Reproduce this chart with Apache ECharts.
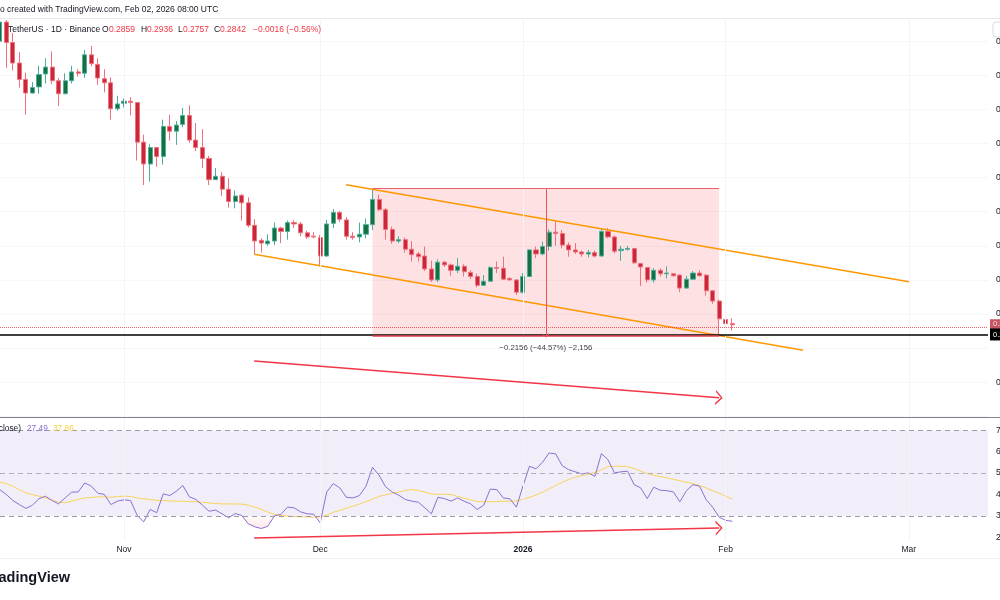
<!DOCTYPE html>
<html><head><meta charset="utf-8">
<script src="https://cdn.jsdelivr.net/npm/echarts@6/dist/echarts.min.js"></script>
<style>html,body{margin:0;padding:0;background:#fff}#c{width:1000px;height:600px}</style>
</head><body><div id="c"></div><script>
// ---------- data (daily candles, first candle date below) ----------
const firstDate = '2025-10-13';
const opens = [.700,.728,.698,.668,.644,.624,.633,.652,.662,.642,
.623,.642,.655,.653,.680,.666,.645,.639,.601,.609,
.612,.610,.552,.520,.544,.531,.575,.568,.578,.591,
.555,.544,.528,.497,.502,.483,.465,.474,.463,.430,
.408,.403,.407,.426,.421,.434,.432,.419,.414,.412,
.385,.433,.449,.438,.414,.413,.417,.431,.468,.453,
.424,.407,.409,.395,.388,.385,.366,.350,.376,.372,
.364,.370,.361,.355,.342,.348,.368,.367,.352,.350,
.332,.355,.394,.388,.399,.420,.418,.401,.394,.391,
.388,.390,.385,.421,.413,.393,.395,.396,.374,.368,
.350,.364,.359,.359,.357,.338,.351,.360,.357,.334,
.319,.292,.2859];
const highs = [.733,.731,.712,.684,.654,.640,.664,.675,.685,.646,
.653,.664,.659,.687,.693,.675,.659,.647,.620,.616,
.618,.611,.563,.549,.545,.585,.592,.583,.602,.606,
.580,.571,.532,.514,.508,.499,.481,.476,.471,.439,
.411,.417,.434,.428,.437,.438,.435,.422,.420,.416,
.438,.454,.451,.442,.420,.434,.440,.4837,.475,.455,
.428,.414,.412,.407,.391,.399,.378,.380,.378,.374,
.382,.373,.364,.359,.357,.370,.377,.384,.354,.351,
.360,.395,.399,.406,.424,.437,.423,.405,.404,.393,
.394,.393,.426,.426,.415,.400,.400,.397,.375,.369,
.367,.367,.370,.360,.358,.356,.363,.364,.358,.335,
.321,.298,.2936];
const lows = [.696,.661,.657,.632,.592,.623,.623,.638,.637,.605,
.622,.638,.648,.646,.663,.636,.625,.585,.598,.603,
.591,.525,.489,.494,.516,.519,.554,.548,.574,.551,
.539,.514,.489,.497,.473,.456,.455,.437,.427,.388,
.390,.400,.401,.404,.409,.426,.414,.410,.411,.370,
.384,.426,.435,.409,.409,.405,.411,.423,.451,.409,
.403,.404,.390,.377,.377,.363,.347,.347,.369,.356,
.360,.355,.351,.339,.341,.347,.360,.350,.349,.328,
.330,.354,.382,.386,.393,.400,.396,.384,.388,.384,
.383,.383,.384,.411,.389,.378,.393,.374,.341,.346,
.346,.355,.352,.355,.332,.337,.350,.355,.327,.315,
.2681,.279,.2757];
const closes = [.728,.698,.668,.644,.624,.632,.651,.662,.642,.623,
.642,.655,.653,.680,.667,.646,.639,.601,.608,.612,
.610,.552,.520,.544,.531,.575,.568,.577,.591,.555,
.544,.528,.497,.502,.483,.465,.473,.463,.430,.407,
.404,.407,.426,.421,.434,.432,.419,.413,.413,.385,
.432,.449,.439,.414,.412,.417,.431,.468,.453,.424,
.407,.409,.395,.387,.384,.366,.350,.376,.372,.364,
.370,.362,.355,.342,.348,.368,.367,.351,.350,.332,
.355,.394,.388,.399,.420,.418,.401,.394,.391,.388,
.390,.385,.421,.413,.392,.395,.396,.375,.369,.350,
.364,.359,.360,.356,.338,.351,.360,.356,.334,.319,
.293,.2858,.2842];
const rsi = [42.3,40.0,37.2,35.3,33.5,35.0,38.0,39.2,37.2,35.6,
38.4,41.1,41.2,45.4,43.9,40.6,40.0,35.3,36.9,37.5,
37.2,30.3,27.2,33.0,31.5,40.3,39.5,41.5,44.2,38.9,
37.7,35.0,32.2,32.7,31.0,29.1,31.1,30.2,26.3,
24.9,24.1,25.2,30.0,30.7,34.1,33.8,31.9,31.0,30.8,
26.8,41.2,45.1,43.1,38.7,38.4,39.5,43.9,52.7,49.0,
43.6,41.2,39.7,37.7,36.9,36.4,33.8,31.0,38.7,38.1,
36.9,38.4,36.9,35.6,33.0,35.0,42.5,
42.3,38.4,38.0,34.1,43.9,53.2,52.0,55.1,59.4,59.0,
53.5,51.6,50.6,49.6,50.1,48.5,59.1,56.3,50.1,50.6,
50.9,44.6,43.1,38.1,43.4,42.0,41.8,41.2,36.6,41.8,
44.6,43.9,37.7,34.1,29.4,27.9,27.49];
const rsiMA = [45.7,45.1,43.9,42.3,40.8,40.0,39.2,38.4,37.3,36.4,
36.1,36.9,37.8,38.4,38.6,38.9,38.9,38.7,39.1,39.2,
39.1,38.4,38.0,37.7,37.3,37.2,37.0,36.9,36.9,36.7,
36.6,36.4,36.1,35.8,35.6,35.6,35.6,35.5,35.0,
34.1,33.0,31.8,30.7,30.2,29.9,29.7,29.6,29.6,29.4,
29.6,30.3,31.7,32.6,33.6,34.5,35.5,36.6,37.8,39.1,
39.8,40.6,41.1,41.9,42.3,41.9,41.2,40.3,40.1,40.1,
40.0,39.1,38.3,37.5,36.7,36.6,36.6,
36.7,36.9,36.9,37.0,37.7,38.7,39.7,41.1,42.6,44.2,
45.7,47.0,48.1,48.8,49.3,50.4,51.6,53.0,53.2,53.2,
53.0,52.1,50.9,49.8,49.0,48.4,47.8,47.1,46.4,45.7,
45.1,44.2,43.1,41.8,40.6,39.2,37.86];
const monthStarts = ['2025-11-01','2025-12-01','2026-01-01','2026-02-01','2026-03-01'];
const monthLabels = ['Nov','Dec','2026','Feb','Mar'];
// drawings: [day offset from firstDate, value]
const channelUpper = [[52.94,0.4896],[139.03,0.3472]];
const channelLower = [[38.92,0.3875],[122.82,0.2468]];
const priceArrow = [[38.9,0.2311],[110.0,0.1773]];
const rsiArrow = [[38.9,19.7],[110.0,24.35]];
const measureX = [57, 110];
const measureY = [0.4837, 0.2681];
const countdown = '15:59:59';

// ---------- helpers ----------
const FONT = '"Liberation Sans", Arial, sans-serif';
const RED = '#f23645';
function dayIndex(s){const [y,m,d]=s.split('-').map(Number);const [y0,m0,d0]=firstDate.split('-').map(Number);return (Date.UTC(y,m-1,d)-Date.UTC(y0,m0-1,d0))/86400000;}
const xIdx = opens.map((_,i)=>i);
const monthIdx = monthStarts.map(dayIndex);
const n = closes.length;
const lastClose = closes[n-1], prevClose = closes[n-2];
const minus = v => (v<0?'\u2212':'') ;
const chg = lastClose - prevClose;
const chgTxt = minus(chg)+Math.abs(chg).toFixed(4)+' ('+minus(chg)+Math.abs(chg/prevClose*100).toFixed(2)+'%)';
const mDiff = measureY[1]-measureY[0];
const mTxt = minus(mDiff)+Math.abs(mDiff).toFixed(4)+' ('+minus(mDiff)+Math.abs(mDiff/measureY[0]*100).toFixed(2)+'%) '+minus(mDiff)+Math.round(Math.abs(mDiff)*10000).toLocaleString('en-US');
const X_MIN = 0.04, X_MAX = 151.11;
const RSI_MIN = 10, RSI_MAX = 75.75, RSI_PANE_LOW = 18.3;
const chevron = 'path://M0,10 L5,0 L10,10 L8.6,10 L5,2.6 L1.4,10 Z';

const chart = echarts.init(document.getElementById('c'), null, {renderer:'canvas'});
const baseX = {type:'value', min:X_MIN, max:X_MAX, axisLine:{show:false}, axisTick:{show:false}, axisLabel:{show:false}, splitLine:{show:false}};
const gridLineStyle = {color:'#f3f4f7', width:1, type:'solid'};
const vGridPrice = monthIdx.map(m=>({xAxis:m, lineStyle:gridLineStyle, label:{show:false}}));
const vGridRsi = monthIdx.map(m=>[{coord:[m, RSI_PANE_LOW], lineStyle:gridLineStyle},{coord:[m, RSI_MAX]}]);
const gridBase = {containLabel:false, outerBoundsMode:'none'};
const Z = 100;

chart.setOption({
  animation:false,
  backgroundColor:'#ffffff',
  textStyle:{fontFamily:FONT},
  grid:[
    Object.assign({left:0, right:12, top:18, bottom:183.7}, gridBase),
    Object.assign({left:0, right:12, top:418, bottom:41.3}, gridBase),
    Object.assign({left:0, right:12, top:541, height:1}, gridBase)
  ],
  xAxis:[
    Object.assign({gridIndex:0}, baseX),
    Object.assign({gridIndex:1}, baseX),
    Object.assign({}, baseX, {gridIndex:2, axisLabel:{show:true, customValues:monthIdx, margin:3, fontSize:8.5, color:'#131722', fontFamily:FONT,
      formatter:v=>{const k=monthIdx.indexOf(v);const t=k>=0?monthLabels[k]:'';return /^\d{4}$/.test(t)?'{b|'+t+'}':t;},
      rich:{b:{fontWeight:'bold', fontSize:8.5, color:'#131722', fontFamily:FONT}}}})
  ],
  yAxis:[
    {type:'value', gridIndex:0, position:'right', min:0.15, max:0.734, interval:0.05,
     axisLine:{show:false}, axisTick:{show:false},
     axisLabel:{margin:8, fontSize:8.5, color:'#131722', fontFamily:FONT, showMinLabel:false, showMaxLabel:false,
       formatter:v=>(Math.abs(v-measureY[1])<0.02||Math.abs(v-lastClose)<0.012)?'':v.toFixed(4)},
     splitLine:{show:true, lineStyle:{color:'#f7f7f9'}}},
    {type:'value', gridIndex:1, position:'right', min:RSI_MIN, max:RSI_MAX, interval:10,
     axisLine:{show:false}, axisTick:{show:false},
     axisLabel:{margin:8, fontSize:8.5, color:'#131722', fontFamily:FONT, showMinLabel:false, showMaxLabel:false, formatter:v=>v.toFixed(2)},
     splitLine:{show:false}},
    {type:'value', gridIndex:2, show:false}
  ],
  series:[
    {type:'candlestick', xAxisIndex:0, yAxisIndex:0, barWidth:4.6,
     data: xIdx.map((x,i)=>[x, opens[i], closes[i], lows[i], highs[i]]),
     encode:{x:0, y:[1,2,3,4]},
     itemStyle:{color:'#17703f', color0:'#c8283a', borderColor:'#4aae9b', borderColor0:'#f0707c', borderWidth:1},
     markArea:{silent:true, itemStyle:{color:'rgba(242,54,69,0.15)'},
       data:[[{coord:[measureX[0], measureY[0]]},{coord:[measureX[1], measureY[1]]}]]},
     markLine:{silent:true, symbol:['none','none'], label:{show:false}, animation:false,
       data:[
         ...vGridPrice,
         {yAxis:lastClose, lineStyle:{color:RED, width:1, type:'dotted', opacity:0.8},
          label:{show:true, position:'end', distance:2, formatter:lastClose.toFixed(4)+'\n'+countdown, backgroundColor:'#b8293a', color:'#fff', fontSize:7.5, lineHeight:8, padding:[1,3,0,3], fontFamily:FONT}},
         {yAxis:measureY[1], lineStyle:{color:'#000', width:1.5, type:'solid'},
          label:{show:true, position:'end', distance:2, formatter:measureY[1].toFixed(4), backgroundColor:'#000', color:'#fff', fontSize:7.5, lineHeight:9, padding:[2,3,1,3], fontFamily:FONT}},
         [{coord:[measureX[0], measureY[0]], lineStyle:{color:'#f0606c', width:1, type:'solid'}},{coord:[measureX[1], measureY[0]]}],
         [{coord:[measureX[0], measureY[1]], lineStyle:{color:'#e0404f', width:1.5, type:'solid'}},{coord:[measureX[1], measureY[1]]}],
         [{coord:[(measureX[0]+measureX[1])/2, measureY[0]], lineStyle:{color:'#f0505e', width:1, type:'solid'},
           label:{show:true, position:'end', distance:8, formatter:mTxt, color:'#3b3f4a', fontSize:7.8, fontFamily:FONT}},
          {coord:[(measureX[0]+measureX[1])/2, measureY[1]], symbol:chevron, symbolSize:[7,4]}],
         [{coord:priceArrow[0], lineStyle:{color:RED, width:1.5, type:'solid'}},{coord:priceArrow[1], symbol:chevron, symbolSize:[15,7]}]
       ]}
    },
    {type:'line', xAxisIndex:0, yAxisIndex:0, data:channelUpper, symbol:'none', silent:true, lineStyle:{color:'#ff9800', width:1.5}},
    {type:'line', xAxisIndex:0, yAxisIndex:0, data:channelLower, symbol:'none', silent:true, lineStyle:{color:'#ff9800', width:1.5}},
    {type:'line', xAxisIndex:1, yAxisIndex:1, data:xIdx.map((x,i)=>[x, Math.min(rsi[i],30)]), symbol:'none', silent:true,
     lineStyle:{width:0, opacity:0},
     areaStyle:{origin:30, color:new echarts.graphic.LinearGradient(0,516,0,540,[{offset:0,color:'rgba(242,54,69,0.03)'},{offset:1,color:'rgba(242,54,69,0.3)'}], true)}},
    {type:'line', xAxisIndex:1, yAxisIndex:1, data:xIdx.map((x,i)=>[x, rsiMA[i]]), symbol:'none', silent:true, lineStyle:{color:'#f7d35a', width:1}},
    {type:'line', xAxisIndex:1, yAxisIndex:1, data:xIdx.map((x,i)=>[x, rsi[i]]), symbol:'none', silent:true, lineStyle:{color:'#8c6fd2', width:1},
     markArea:{silent:true, itemStyle:{color:'rgba(126,87,194,0.1)'}, data:[[{yAxis:30},{yAxis:70}]]},
     markLine:{silent:true, symbol:['none','none'], label:{show:false}, animation:false,
       data:[
         ...vGridRsi,
         {yAxis:70, lineStyle:{color:'#9d99a6', width:1, type:[5,4]}},
         {yAxis:50, lineStyle:{color:'#b3b0ba', width:1, type:[5,4]}},
         {yAxis:30, lineStyle:{color:'#9d99a6', width:1, type:[5,4]}},
         [{coord:rsiArrow[0], lineStyle:{color:RED, width:1.5, type:'solid'}},{coord:rsiArrow[1], symbol:chevron, symbolSize:[15,7]}]
       ]}
    }
  ],
  graphic:[
    {type:'text', z:Z, x:0, y:10, style:{text:'o created with TradingView.com, Feb 02, 2026 08:00 UTC', font:'8.5px '+FONT, fill:'#131722', textVerticalAlign:'middle'}},
    {type:'line', z:Z, shape:{x1:0,y1:18.5,x2:1000,y2:18.5}, style:{stroke:'#e9eaee', lineWidth:1}},
    {type:'rect', z:Z, shape:{x:993,y:22,width:14,height:15,r:3}, style:{fill:'#fff', stroke:'#d9dbe0', lineWidth:1}},
    {type:'text', z:Z, x:8, y:29.5, style:{text:'TetherUS \u00b7 1D \u00b7 Binance', font:'8.5px '+FONT, fill:'#131722', textVerticalAlign:'middle'}},
    {type:'text', z:Z, x:102, y:29.5, style:{text:'O', font:'8.5px '+FONT, fill:'#131722', textVerticalAlign:'middle'}},
    {type:'text', z:Z, x:109, y:29.5, style:{text:opens[n-1].toFixed(4), font:'8.5px '+FONT, fill:RED, textVerticalAlign:'middle'}},
    {type:'text', z:Z, x:141, y:29.5, style:{text:'H', font:'8.5px '+FONT, fill:'#131722', textVerticalAlign:'middle'}},
    {type:'text', z:Z, x:147, y:29.5, style:{text:highs[n-1].toFixed(4), font:'8.5px '+FONT, fill:RED, textVerticalAlign:'middle'}},
    {type:'text', z:Z, x:178, y:29.5, style:{text:'L', font:'8.5px '+FONT, fill:'#131722', textVerticalAlign:'middle'}},
    {type:'text', z:Z, x:183, y:29.5, style:{text:lows[n-1].toFixed(4), font:'8.5px '+FONT, fill:RED, textVerticalAlign:'middle'}},
    {type:'text', z:Z, x:214, y:29.5, style:{text:'C', font:'8.5px '+FONT, fill:'#131722', textVerticalAlign:'middle'}},
    {type:'text', z:Z, x:220, y:29.5, style:{text:lastClose.toFixed(4), font:'8.5px '+FONT, fill:RED, textVerticalAlign:'middle'}},
    {type:'text', z:Z, x:253, y:29.5, style:{text:chgTxt, font:'8.5px '+FONT, fill:RED, textVerticalAlign:'middle'}},
    {type:'line', z:Z, shape:{x1:0,y1:417.5,x2:1000,y2:417.5}, style:{stroke:'#80838c', lineWidth:1}},
    {type:'text', z:Z, x:21, y:429, style:{text:'RSI 14 (close)', font:'8.3px '+FONT, fill:'#131722', textAlign:'right', textVerticalAlign:'middle'}},
    {type:'text', z:Z, x:27, y:429, style:{text:rsi[n-1].toFixed(2), font:'8.3px '+FONT, fill:'#8c6fd2', textVerticalAlign:'middle'}},
    {type:'text', z:Z, x:53, y:429, style:{text:rsiMA[n-1].toFixed(2), font:'8.3px '+FONT, fill:'#f5cf48', textVerticalAlign:'middle'}},
    {type:'line', z:Z, shape:{x1:0,y1:558.5,x2:1000,y2:558.5}, style:{stroke:'#f0f0f2', lineWidth:1}},
    {type:'text', z:Z, x:70, y:578, style:{text:'TradingView', font:'bold 14.5px '+FONT, fill:'#131722', textAlign:'right', textVerticalAlign:'middle'}}
  ]
});
</script></body></html>
